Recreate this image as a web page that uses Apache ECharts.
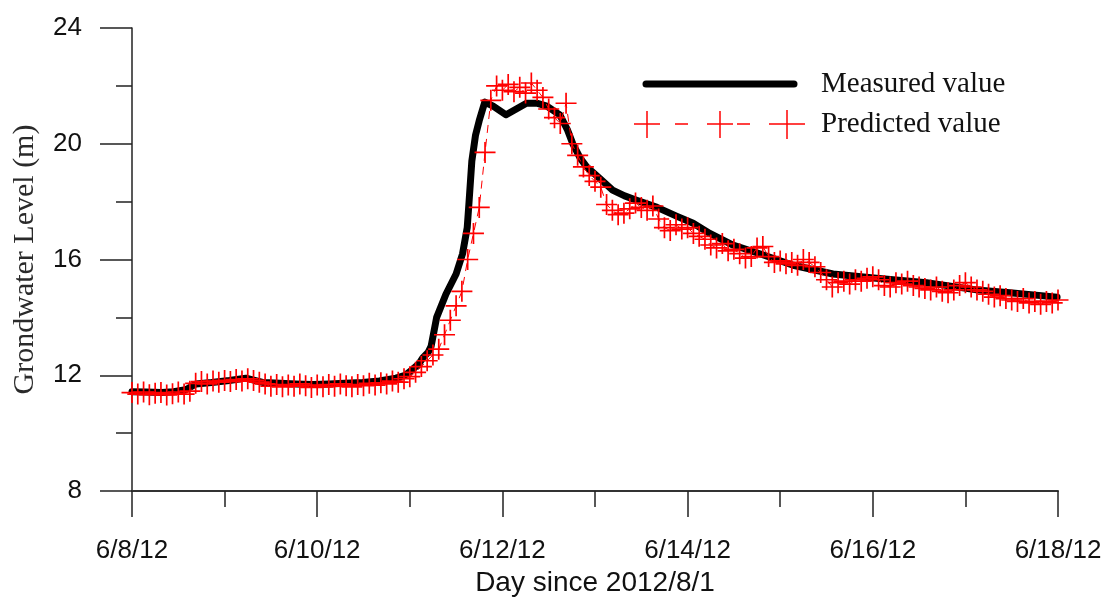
<!DOCTYPE html>
<html>
<head>
<meta charset="utf-8">
<script src="https://cdn.jsdelivr.net/npm/echarts@6/dist/echarts.min.js"></script>
<style>html,body{margin:0;padding:0;background:#fff;}#c{width:1104px;height:599px;}</style>
</head>
<body>
<div id="c"></div>
<script>
// Days since 6/8/12 00:00
const xTickLabels = ['6/8/12', '6/10/12', '6/12/12', '6/14/12', '6/16/12', '6/18/12'];
const yTickValues = [8, 12, 16, 20, 24];

const measuredDays = [0, 0.15, 0.32, 0.45, 0.58, 0.69, 0.86, 1.05, 1.23, 1.41, 1.6, 1.77, 1.95, 2.13, 2.3,
  2.49, 2.67, 2.85, 2.95, 3.03, 3.1, 3.14, 3.2, 3.23, 3.29, 3.39, 3.5, 3.57, 3.62, 3.64,
  3.67, 3.71, 3.75, 3.81, 3.9, 4.04, 4.15, 4.26, 4.37, 4.48, 4.62, 4.7, 4.76, 4.84, 4.91,
  5.05, 5.19, 5.32, 5.45, 5.67, 5.88, 6.06, 6.24, 6.49, 6.78, 7.14, 7.57, 8.04, 8.58, 9.12,
  9.48, 9.99];
const measuredValues = [11.43, 11.42, 11.4, 11.43, 11.5, 11.7, 11.75, 11.82, 11.9, 11.75, 11.72, 11.7, 11.68, 11.7, 11.72,
  11.75, 11.8, 11.9, 12.0, 12.2, 12.4, 12.6, 12.8, 13.0, 14.0, 14.8, 15.5, 16.2, 17.1, 18.0,
  19.4, 20.3, 20.8, 21.44, 21.3, 21.0, 21.2, 21.4, 21.4, 21.3, 21.0, 20.5, 20.0, 19.5, 19.2,
  18.8, 18.4, 18.2, 18.05, 17.8, 17.5, 17.25, 16.9, 16.5, 16.2, 15.8, 15.5, 15.35, 15.2, 14.95,
  14.85, 14.7];

// Predicted values every 1.5 hours from 6/8/12 00:00
const predictedStepDays = 1.5 / 24;
const predictedValues = [
  11.40, 11.35, 11.42, 11.33, 11.38, 11.40, 11.32, 11.36, 11.42, 11.35,
  11.45, 11.72, 11.78, 11.70, 11.80, 11.76, 11.82, 11.78, 11.85, 11.80,
  11.88, 11.82, 11.76, 11.70, 11.62, 11.68, 11.60, 11.66, 11.62, 11.70,
  11.64, 11.58, 11.66, 11.60, 11.68, 11.62, 11.70, 11.64, 11.60, 11.68,
  11.64, 11.72, 11.66, 11.74, 11.70, 11.80, 11.76, 11.88, 11.95, 12.10,
  12.30, 12.50, 12.70, 12.90, 13.40, 13.90, 14.40, 14.90, 16.00, 16.90,
  17.80, 19.70, 21.50, 22.00, 21.85, 22.05, 21.80, 21.95, 21.75, 22.10,
  21.85, 21.60, 21.20, 20.90, 20.70, 21.40, 20.00, 19.60, 19.20, 18.90,
  18.70, 18.50, 17.90, 17.70, 17.55, 17.60, 17.75, 17.95, 17.80, 17.70,
  17.85, 17.40, 17.10, 17.00, 17.20, 17.05, 17.10, 16.90, 16.80, 16.70,
  16.50, 16.40, 16.55, 16.30, 16.35, 16.20, 16.05, 16.10, 16.40, 16.45,
  16.10, 15.90, 15.95, 15.85, 15.90, 15.80, 16.00, 15.90, 15.75, 15.55,
  15.30, 15.05, 15.20, 15.25, 15.15, 15.30, 15.25, 15.35, 15.40, 15.30,
  15.10, 15.05, 15.20, 15.15, 15.25, 15.10, 15.05, 15.00, 14.95, 15.05,
  14.90, 14.85, 14.95, 15.10, 15.20, 15.05, 14.95, 14.90, 14.80, 14.70,
  14.75, 14.65, 14.60, 14.55, 14.65, 14.50, 14.55, 14.45, 14.55, 14.50,
  14.60
];

const measuredData = measuredDays.map((d, i) => [d, measuredValues[i]]);
const predictedData = predictedValues.map((v, i) => [i * predictedStepDays, v]);

const PLUS = 'path://M9.2,0 H10.8 V9.2 H20 V10.8 H10.8 V20 H9.2 V10.8 H0 V9.2 H9.2 Z';

const chart = echarts.init(document.getElementById('c'), null, {renderer: 'canvas'});
const axisColor = '#222';
chart.setOption({
  backgroundColor: '#ffffff',
  animation: false,
  grid: {left: 132, right: 46, top: 28, bottom: 108, containLabel: false, outerBoundsMode: 'none'},
  xAxis: {
    type: 'value', min: 0, max: 10, interval: 2,
    name: 'Day since 2012/8/1', nameLocation: 'middle', nameGap: 77,
    nameTextStyle: {fontFamily: 'Liberation Sans', fontSize: 28, color: '#111'},
    axisLine: {onZero: false, lineStyle: {color: '#333', width: 2}},
    axisTick: {show: true, length: 26, lineStyle: {color: axisColor, width: 1.5}},
    minorTick: {show: true, splitNumber: 2, length: 16, lineStyle: {color: axisColor, width: 1.5}},
    splitLine: {show: false}, minorSplitLine: {show: false},
    axisLabel: {margin: 47, fontFamily: 'Liberation Sans', fontSize: 26, color: '#111',
      formatter: v => xTickLabels[Math.round(v / 2)] || ''}
  },
  yAxis: {
    type: 'value', min: 8, max: 24, interval: 4,
    name: 'Grondwater Level (m)', nameLocation: 'middle', nameGap: 92, nameRotate: 90,
    nameTextStyle: {fontFamily: 'Liberation Serif', fontSize: 30, color: '#2a2a2a'},
    axisLine: {show: true, lineStyle: {color: axisColor, width: 1.5}},
    axisTick: {show: true, length: 32, lineStyle: {color: axisColor, width: 1.5}},
    minorTick: {show: true, splitNumber: 2, length: 16, lineStyle: {color: axisColor, width: 1.5}},
    splitLine: {show: false}, minorSplitLine: {show: false},
    axisLabel: {margin: 50, fontFamily: 'Liberation Sans', fontSize: 26, color: '#111',
      formatter: v => yTickValues.indexOf(v) >= 0 ? String(v) : ''}
  },
  series: [
    {
      name: 'Measured value', type: 'line', data: measuredData,
      showSymbol: false, symbol: 'none', smooth: false,
      lineStyle: {color: '#000', width: 7, cap: 'round', join: 'round'},
      z: 2
    },
    {
      name: 'Predicted value', type: 'line', data: predictedData,
      symbol: PLUS, symbolSize: 21, showSymbol: true,
      itemStyle: {color: '#ff0000'},
      lineStyle: {color: '#ff0000', width: 1, type: [8, 6]},
      z: 3
    }
  ],
  graphic: [
    {type: 'line', shape: {x1: 646, y1: 84, x2: 794, y2: 84}, style: {stroke: '#000', lineWidth: 7, lineCap: 'round'}},
    {type: 'text', left: 821, top: 70, style: {text: 'Measured value', font: '29px "Liberation Serif"', fill: '#111'}},
    {type: 'line', shape: {x1: 634, y1: 124, x2: 660, y2: 124}, style: {stroke: '#ff0000', lineWidth: 1.5}},
    {type: 'line', shape: {x1: 647, y1: 111, x2: 647, y2: 138}, style: {stroke: '#ff0000', lineWidth: 1.5}},
    {type: 'line', shape: {x1: 675, y1: 124, x2: 688, y2: 124}, style: {stroke: '#ff0000', lineWidth: 1.5}},
    {type: 'line', shape: {x1: 707, y1: 124, x2: 733, y2: 124}, style: {stroke: '#ff0000', lineWidth: 1.5}},
    {type: 'line', shape: {x1: 720, y1: 111, x2: 720, y2: 138}, style: {stroke: '#ff0000', lineWidth: 1.5}},
    {type: 'line', shape: {x1: 737, y1: 124, x2: 750, y2: 124}, style: {stroke: '#ff0000', lineWidth: 1.5}},
    {type: 'line', shape: {x1: 769, y1: 124, x2: 805, y2: 124}, style: {stroke: '#ff0000', lineWidth: 1.5}},
    {type: 'line', shape: {x1: 787, y1: 110, x2: 787, y2: 139}, style: {stroke: '#ff0000', lineWidth: 1.5}},
    {type: 'text', left: 821, top: 110, style: {text: 'Predicted value', font: '29px "Liberation Serif"', fill: '#111'}}
  ]
});
</script>
</body>
</html>
